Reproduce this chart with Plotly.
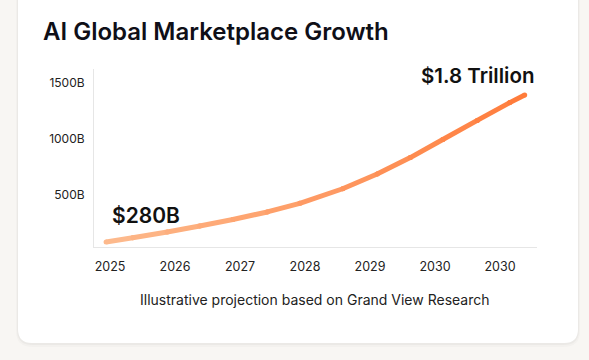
import plotly.graph_objects as go

# ---- data ----
years = [2024.94, 2025.35, 2025.88, 2026.38, 2026.89, 2027.42, 2027.92,
         2028.58, 2029.11, 2029.62, 2030.12, 2030.65, 2031.15, 2031.38]
values_b = [80, 119, 170, 223, 282, 349, 426, 556, 687, 834, 996, 1166, 1325, 1392]

x_tick_vals = [2025, 2026, 2027, 2028, 2029, 2030, 2031]
x_tick_text = ["2025", "2026", "2027", "2028", "2029", "2030", "2030"]
y_tick_vals = [500, 1000, 1500]
y_tick_text = ["500B", "1000B", "1500B"]

title_text = "AI Global Marketplace Growth"
start_label = "$280B"
end_label = "$1.8 Trillion"
footer_text = "Illustrative projection based on Grand View Research"

# ---- layout geometry (pixels) ----
W, H = 589, 360
L, R, T, B = 94, 537, 69, 247
pw, ph = R - L, B - T

def fx(px):
    return (px - L) / pw

def fy(py):
    return 1 - (py - T) / ph

def rounded_rect(x0, y0, x1, y1, r):
    rx, ry = r / pw, r / ph
    a, b, c, d = fx(x0), fx(x1), fy(y1), fy(y0)  # left, right, bottom, top
    return (f"M {a+rx},{d} L {b-rx},{d} Q {b},{d} {b},{d-ry} "
            f"L {b},{c+ry} Q {b},{c} {b-rx},{c} L {a+rx},{c} "
            f"Q {a},{c} {a},{c+ry} L {a},{d-ry} Q {a},{d} {a+rx},{d} Z")

c0 = (253, 188, 143)
c1 = (255, 121, 56)

def mix(t):
    return "rgb(%d,%d,%d)" % tuple(round(c0[i] + (c1[i] - c0[i]) * t) for i in range(3))

fig = go.Figure()
n = len(years)
for i in range(n - 1):
    col = mix((i + 0.5) / (n - 1))
    fig.add_trace(go.Scatter(
        x=years[i:i + 2], y=values_b[i:i + 2], mode="lines+markers",
        line=dict(color=col, width=5), marker=dict(color=col, size=5),
        hoverinfo="skip", showlegend=False, cliponaxis=False))

font_family = "Inter, 'Noto Sans', sans-serif"

shapes = [
    dict(type="path", xref="paper", yref="paper", layer="below",
         path=rounded_rect(16, -20, 580, 347, 16),
         fillcolor="rgba(0,0,0,0.02)", line=dict(width=0)),
    dict(type="path", xref="paper", yref="paper", layer="below",
         path=rounded_rect(17, -20, 579, 345, 15),
         fillcolor="rgba(0,0,0,0.03)", line=dict(width=0)),
    dict(type="path", xref="paper", yref="paper", layer="below",
         path=rounded_rect(18, -20, 578, 343, 14),
         fillcolor="white", line=dict(width=0)),
]

annotations = [
    dict(text=start_label, x=2025.0, y=318, xref="x", yref="y",
         xanchor="left", yanchor="middle", showarrow=False,
         font=dict(family=font_family, size=21, color="#111111", weight=600)),
    dict(text=end_label, x=2031.55, y=1570, xref="x", yref="y",
         xanchor="right", yanchor="middle", showarrow=False,
         font=dict(family=font_family, size=20.5, color="#111111", weight=600)),
    dict(text=footer_text, x=fx(315), y=fy(299), xref="paper", yref="paper",
         xanchor="center", yanchor="middle", showarrow=False,
         font=dict(family=font_family, size=14, color="#222222")),
]

fig.update_layout(
    width=W, height=H,
    margin=dict(l=L, r=W - R, t=T, b=H - B, pad=0),
    paper_bgcolor="#f8f6f3", plot_bgcolor="rgba(0,0,0,0)",
    title=dict(text=title_text, x=43 / W, xref="container", xanchor="left",
               y=1 - 32 / H, yref="container", yanchor="middle",
               font=dict(family=font_family, size=24, color="#0f0f17", weight=600)),
    shapes=shapes, annotations=annotations,
    showlegend=False,
    xaxis=dict(range=[2024.754, 2031.569], tickvals=x_tick_vals, ticktext=x_tick_text,
               showgrid=False, zeroline=False, showline=True, linecolor="#e6e6e6",
               linewidth=1, ticks="", ticklabelstandoff=8,
               tickfont=dict(family=font_family, size=12.5, color="#222222"),
               fixedrange=True),
    yaxis=dict(range=[36, 1625], tickvals=y_tick_vals, ticktext=y_tick_text,
               showgrid=False, zeroline=False, showline=True, linecolor="#e6e6e6",
               linewidth=1, ticks="", ticklabelstandoff=6,
               tickfont=dict(family=font_family, size=12, color="#222222"),
               fixedrange=True),
)

fig.write_html("out.html", config={"displayModeBar": False},
               post_script="document.body.style.margin='0';document.body.style.overflow='hidden';")
